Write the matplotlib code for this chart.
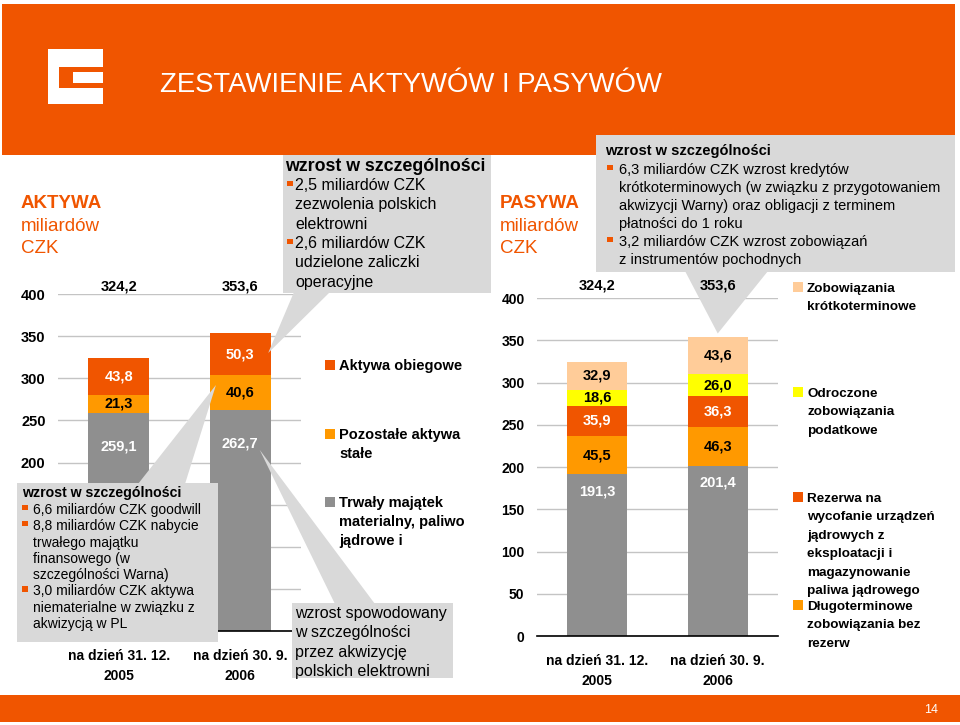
import numpy as np
import matplotlib
matplotlib.use('Agg')
import matplotlib.pyplot as plt
from matplotlib.patches import Rectangle, Polygon

plt.rcParams['font.family'] = ['Liberation Sans', 'DejaVu Sans']

# ---------------- data ----------------
categories = ['na dzień 31. 12.\n2005', 'na dzień 30. 9.\n2006']
y_ticks = [0, 50, 100, 150, 200, 250, 300, 350, 400]

aktywa_trwaly = [259.1, 262.7]
aktywa_pozostale = [21.3, 40.6]
aktywa_obiegowe = [43.8, 50.3]
aktywa_total = [324.2, 353.6]

pasywa_kapital = [191.3, 201.4]
pasywa_dlugo = [45.5, 46.3]
pasywa_rezerwa = [35.9, 36.3]
pasywa_odroczone = [18.6, 26.0]
pasywa_krotko = [32.9, 43.6]
pasywa_total = [324.2, 353.6]

aktywa_legend = [
    ['Aktywa obiegowe'],
    ['Pozostałe aktywa', 'stałe'],
    ['Trwały majątek', 'materialny, paliwo', 'jądrowe i'],
]
pasywa_legend = [
    ['Zobowiązania', 'krótkoterminowe'],
    ['Odroczone', 'zobowiązania', 'podatkowe'],
    ['Rezerwa na', 'wycofanie urządzeń', 'jądrowych z', 'eksploatacji i',
     'magazynowanie', 'paliwa jądrowego'],
    ['Długoterminowe', 'zobowiązania bez', 'rezerw'],
]

# ---------------- style ----------------
ORANGE = '#F05500'
AMBER = '#FF9900'
GRAY = '#8F8F8F'
PEACH = '#FFCC99'
YELLOW = '#FFFF00'
BOX = '#D9D9D9'
GRID = '#C4C4C4'

W, H = 960, 725
fig = plt.figure(figsize=(W / 100, H / 100), dpi=100)


def px_axes(x0, y0, x1, y1, **kw):
    return fig.add_axes([x0 / W, 1 - y1 / H, (x1 - x0) / W, (y1 - y0) / H], **kw)


def fmt(v):
    return f'{v:.1f}'.replace('.', ',')


def style_axis(ax, ysize, min_label):
    ax.set_xlim(-0.5, 1.5)
    ax.set_ylim(0, 400)
    ax.set_yticks(y_ticks)
    ax.set_yticklabels([str(t) if t >= min_label else '' for t in y_ticks],
                       fontsize=ysize, fontweight='bold')
    ax.set_xticks([0, 1])
    ax.set_xticklabels(categories, fontsize=10, fontweight='bold', linespacing=1.5)
    ax.tick_params(length=0)
    ax.tick_params(axis='y', pad=9)
    ax.tick_params(axis='x', pad=13)
    for s in ['left', 'right', 'top']:
        ax.spines[s].set_visible(False)
    ax.spines['bottom'].set_color('black')
    ax.spines['bottom'].set_linewidth(1.2)
    ax.yaxis.grid(True, color=GRID, lw=1)
    ax.set_axisbelow(True)
    ax.patch.set_visible(False)


x = np.arange(2)
bw = 0.5


def stacked(ax, layers, base_off):
    bottom = np.zeros(2)
    for i, (vals, col, tc) in enumerate(layers):
        bars = ax.bar(x, vals, bw, bottom=bottom, color=col, zorder=2)
        if i == 0:
            for xi, v in zip(x, vals):
                ax.annotate(fmt(v), xy=(xi, v), xytext=(0, base_off),
                            textcoords='offset points', ha='center', va='center',
                            color=tc, fontsize=10.5, fontweight='bold')
        else:
            ax.bar_label(bars, labels=[fmt(v) for v in vals], label_type='center',
                         color=tc, fontsize=10.5, fontweight='bold')
        bottom = bottom + np.array(vals)


ax1 = px_axes(58, 294, 301, 631)
style_axis(ax1, 10.5, 200)
stacked(ax1, [(aktywa_trwaly, GRAY, 'white'),
              (aktywa_pozostale, AMBER, 'black'),
              (aktywa_obiegowe, ORANGE, 'white')], -24)

ax2 = px_axes(537, 298, 778, 636)
style_axis(ax2, 10, 0)
stacked(ax2, [(pasywa_kapital, GRAY, 'white'),
              (pasywa_dlugo, AMBER, 'black'),
              (pasywa_rezerwa, ORANGE, 'white'),
              (pasywa_odroczone, YELLOW, 'black'),
              (pasywa_krotko, PEACH, 'black')], -12)

# ---------------- overlay (pixel coordinates) ----------------
ax_o = px_axes(0, 0, W, H, zorder=5)
ax_o.set_xlim(0, W)
ax_o.set_ylim(H, 0)
ax_o.axis('off')


def T(xp, yc, s, size, bold=False, color='black', ha='left'):
    ax_o.text(xp, yc + 0.358 * size * 100 / 72, s, fontsize=size,
              fontweight='bold' if bold else 'normal', color=color, ha=ha, va='baseline')


def to_px(ax, xd, yd):
    dx, dy = ax.transData.transform((xd, yd))
    return dx, H - dy


def callout(x0, y0, x1, y1, base, tip):
    ax_o.add_patch(Rectangle((x0, y0), x1 - x0, y1 - y0, color=BOX, lw=0))
    ax_o.add_patch(Polygon([base[0], base[1], tip], closed=True, color=BOX, lw=0))


def bullet(xp, yc):
    ax_o.add_patch(Rectangle((xp, yc - 4.5), 5.5, 5.5, color=ORANGE, lw=0))


# header
ax_o.add_patch(Rectangle((2, 4), 953, 151, color=ORANGE, lw=0))
for (lx, ly, lw_, lh) in [(48, 49, 11, 55), (48, 49, 55, 18), (48, 88, 55, 16), (73, 72, 30, 11)]:
    ax_o.add_patch(Rectangle((lx, ly), lw_, lh, color='white', lw=0))
T(160, 82, 'ZESTAWIENIE AKTYWÓW I PASYWÓW', 19.8, color='white')

# footer
ax_o.add_patch(Rectangle((0, 695), W, 27, color=ORANGE, lw=0))
T(931, 709, '14', 9, color='white', ha='center')

# side titles
for xp, name in [(21, 'AKTYWA'), (500, 'PASYWA')]:
    T(xp, 201.5, name, 13.5, bold=True, color=ORANGE)
    T(xp, 224, 'miliardów', 13.5, color=ORANGE)
    T(xp, 246.5, 'CZK', 13.5, color=ORANGE)

# callout: top right (pasywa)
callout(596, 135, 955, 272, [(685, 271), (768, 271)], to_px(ax2, 1.0, 358))
T(605, 150, 'wzrost w szczególności', 10.5, bold=True)
rt_lines = [('6,3 miliardów CZK wzrost kredytów', True),
            ('krótkoterminowych (w związku z przygotowaniem', False),
            ('akwizycji Warny) oraz obligacji z terminem', False),
            ('płatności do 1 roku', False),
            ('3,2 miliardów CZK wzrost zobowiązań', True),
            ('z instrumentów pochodnych', False)]
for i, (s, b) in enumerate(rt_lines):
    yc = 169 + i * 18
    if b:
        bullet(607, yc)
    T(619, yc, s, 10.5)

# callout: top middle (aktywa)
callout(283, 155, 491, 293, [(294, 292), (330, 292)], to_px(ax1, 1.23, 330))
T(285, 165, 'wzrost w szczególności', 12.8, bold=True)
tm_lines = [('2,5 miliardów CZK', True), ('zezwolenia polskich', False),
            ('elektrowni', False), ('2,6 miliardów CZK', True),
            ('udzielone zaliczki', False), ('operacyjne', False)]
for i, (s, b) in enumerate(tm_lines):
    yc = 184 + i * 19.4
    if b:
        bullet(287, yc + 1)
    T(295, yc, s, 11.5)

# callout: bottom left (aktywa)
callout(17, 483, 218, 642, [(138, 484), (185, 484)], to_px(ax1, 0.8, 292))
T(22, 492, 'wzrost w szczególności', 10.2, bold=True)
bl_lines = [('6,6 miliardów CZK goodwill', True),
            ('8,8 miliardów CZK nabycie', True),
            ('trwałego majątku', False),
            ('finansowego (w', False),
            ('szczególności Warna)', False),
            ('3,0 miliardów CZK aktywa', True),
            ('niematerialne w związku z', False),
            ('akwizycją w PL', False)]
for i, (s, b) in enumerate(bl_lines):
    yc = 509 + i * 16.3
    if b:
        bullet(22, yc)
    T(33, yc, s, 10)

# callout: bottom middle (aktywa)
callout(292, 603, 453, 678, [(335, 604), (375, 604)], to_px(ax1, 1.16, 215))
for i, s in enumerate(['wzrost spowodowany', 'w szczególności',
                       'przez akwizycję', 'polskich elektrowni']):
    T(295, 612 + i * 19.4, s, 11.5)

# totals above the bars (drawn on top of the callouts)
for ax, totals, off in [(ax1, aktywa_total, -9), (ax2, pasywa_total, -13.7)]:
    for xi, t in zip(x, totals):
        px, py = to_px(ax, xi, 400)
        T(px, py + off, fmt(t), 10.5, bold=True, ha='center')


# legends
def legend_block(x_sq, x_txt, y_first, lines, color, size, step, sq=10):
    ax_o.add_patch(Rectangle((x_sq, y_first - sq / 2 - 0.5), sq, sq, color=color, lw=0))
    for i, ln in enumerate(lines):
        T(x_txt, y_first + i * step, ln, size, bold=True)


for lines, col, y0 in zip(aktywa_legend, [ORANGE, AMBER, GRAY], [365, 434, 502]):
    legend_block(325, 339, y0, lines, col, 10.5, 19)

for lines, col, y0 in zip(pasywa_legend, [PEACH, YELLOW, ORANGE, AMBER], [287, 392, 497, 605]):
    legend_block(793, 807, y0, lines, col, 9.7, 18.5)

fig.savefig('out.png', dpi=100)
